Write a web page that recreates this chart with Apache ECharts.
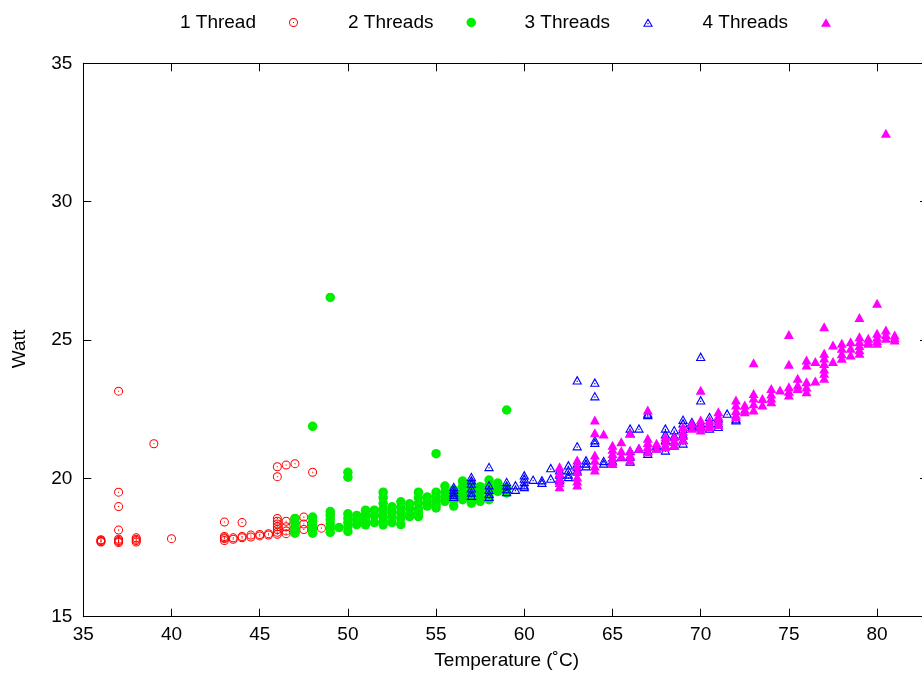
<!DOCTYPE html>
<html>
<head>
<meta charset="utf-8">
<script src="https://cdn.jsdelivr.net/npm/echarts@6/dist/echarts.min.js"></script>
<style>
html,body{margin:0;padding:0;background:#fff;}
#chart{width:922px;height:673px;}
</style>
</head>
<body>
<div id="chart"></div>
<script>
// ---- data ----
const seriesNames = ['1 Thread', '2 Threads', '3 Threads', '4 Threads'];
const xTicks = [35, 40, 45, 50, 55, 60, 65, 70, 75, 80];
const yTicks = [15, 20, 25, 30, 35];
const xLabel = 'Temperature (˚C)';
const yLabel = 'Watt';

const thread1 = [
  [36,17.7],[36,17.75],[36,17.72],[36,17.78],
  [37,23.15],[37,19.5],[37,18.98],[37,18.13],[37,17.8],[37,17.72],[37,17.68],[37,17.75],
  [38,17.85],[38,17.75],[38,17.7],[38,17.8],
  [39,21.25],
  [40,17.82],
  [43,18.42],[43,17.9],[43,17.82],[43,17.75],[43,17.85],
  [43.5,17.85],[43.5,17.8],
  [44,18.4],[44,17.9],[44,17.85],
  [44.5,17.95],[44.5,17.88],
  [45,17.97],[45,17.92],
  [45.5,18.0],[45.5,17.95],
  [46,20.42],[46,20.06],[46,18.55],[46,18.45],[46,18.35],[46,18.25],[46,18.15],[46,18.05],[46,17.98],
  [46.5,20.48],[46.5,18.45],[46.5,18.25],[46.5,18.1],[46.5,18.0],
  [47,20.53],[47,18.55],[47,18.4],[47,18.2],[47,18.05],
  [47.5,18.6],[47.5,18.35],[47.5,18.15],
  [48,20.22],[48,18.2],[48,18.1],
  [48.5,18.2],
  [49,18.7]
];

const thread2 = [
  [49,26.54],[48,21.88],[50,20.22],[50,20.04],[55,20.89],[59,22.47],
  [47,18.55],[47,18.4],[47,18.25],[47,18.1],[47,18.02],
  [48,18.6],[48,18.45],[48,18.3],[48,18.15],[48,18.02],
  [49,18.8],[49,18.65],[49,18.5],[49,18.35],[49,18.2],[49,18.05],
  [49.5,18.22],
  [50,18.72],[50,18.55],[50,18.4],[50,18.25],[50,18.08],
  [50.5,18.66],[50.5,18.5],[50.5,18.33],
  [51,18.85],[51,18.7],[51,18.55],[51,18.4],[51,18.32],
  [51.5,18.85],[51.5,18.65],[51.5,18.4],
  [52,19.5],[52,19.3],[52,19.1],[52,18.9],[52,18.75],[52,18.6],[52,18.45],[52,18.32],
  [52.5,18.97],[52.5,18.8],[52.5,18.6],[52.5,18.4],
  [53,19.15],[53,18.95],[53,18.75],[53,18.55],[53,18.33],
  [53.5,19.08],[53.5,18.9],[53.5,18.7],[53.5,18.62],
  [54,19.5],[54,19.3],[54,19.1],[54,18.9],[54,18.75],[54,18.62],
  [54.5,19.33],[54.5,19.15],[54.5,19.0],
  [55,19.5],[55,19.35],[55,19.2],[55,19.05],[55,18.93],
  [55.5,19.72],[55.5,19.5],[55.5,19.3],[55.5,19.17],
  [56,19.58],[56,19.4],[56,19.2],[56,19.0],
  [56.5,19.9],[56.5,19.7],[56.5,19.5],[56.5,19.35],[56.5,19.23],
  [57,19.82],[57,19.6],[57,19.4],[57,19.2],[57,19.1],
  [57.5,19.7],[57.5,19.5],[57.5,19.3],[57.5,19.17],
  [58,19.94],[58,19.75],[58,19.55],[58,19.35],[58,19.23],
  [58.5,19.83],[58.5,19.65],[58.5,19.53],
  [59,19.65],[59,19.47]
];

const thread3 = [
  [56,19.7],[56,19.6],[56,19.5],[56,19.42],[56,19.34],
  [57,20.06],[57,19.94],[57,19.82],[57,19.65],[57,19.5],[57,19.38],
  [58,20.42],[58,19.76],[58,19.6],[58,19.45],[58,19.34],
  [59,19.88],[59,19.75],[59,19.62],[59,19.52],
  [59.5,19.76],[59.5,19.6],
  [60,20.12],[60,20.0],[60,19.88],[60,19.76],[60,19.7],
  [60.5,19.96],
  [61,19.94],[61,19.85],
  [61.5,20.38],[61.5,20.0],
  [62,20.3],[62,20.15],[62,20.0],[62,19.94],
  [62.5,20.48],[62.5,20.3],[62.5,20.15],[62.5,20.06],
  [63,23.55],[63,21.17],[63,20.55],[63,20.42],[63,20.3],
  [63.5,20.66],[63.5,20.55],[63.5,20.45],
  [64,23.47],[64,22.98],[64,21.39],[64,21.3],
  [64.5,20.64],[64.5,20.55],
  [65,20.75],[65,20.65],
  [65.5,20.78],
  [66,21.81],[66,21.65],[66,21.0],[66,20.8],[66,20.62],
  [66.5,21.81],[66.5,21.09],
  [67,22.35],[67,22.3],[67,21.02],[67,20.9],
  [67.5,21.2],[67.5,21.1],
  [68,21.81],[68,21.6],[68,21.4],[68,21.2],[68,21.02],
  [68.5,21.75],[68.5,21.55],[68.5,21.35],[68.5,21.2],
  [69,22.13],[69,22.0],[69,21.8],[69,21.6],[69,21.4],[69,21.27],
  [69.5,22.05],[69.5,21.95],[69.5,21.87],
  [70,24.4],[70,22.83],[70,22.0],[70,21.9],
  [70.5,22.23],[70.5,22.0],[70.5,21.81],
  [71,22.18],[71,22.0],[71,21.87],
  [71.5,22.35],
  [72,22.11],[72,22.15]
];

const thread4 = [
  [62,20.42],[62,20.2],[62,20.0],[62,19.85],[62,19.7],
  [63,20.66],[63,20.45],[63,20.25],[63,20.05],[63,19.9],[63,19.76],
  [64,22.11],[64,21.65],[64,20.84],[64,20.65],[64,20.45],[64,20.3],
  [64.5,21.6],
  [65,21.2],[65,21.05],[65,20.9],[65,20.75],[65,20.6],[65,20.54],
  [65.5,21.32],[65.5,21.0],[65.5,20.8],
  [66,21.63],[66,21.02],[66,20.85],[66,20.66],
  [66.5,21.09],
  [67,22.47],[67,21.45],[67,21.3],[67,21.15],[67,20.96],
  [67.5,21.27],[67.5,21.09],
  [68,21.5],[68,21.35],[68,21.2],[68,21.14],
  [68.5,21.5],[68.5,21.35],[68.5,21.2],
  [69,21.87],[69,21.7],[69,21.55],[69,21.39],
  [69.5,21.99],[69.5,21.81],
  [70,23.18],[70,22.11],[70,21.95],[70,21.85],[70,21.75],
  [70.5,22.11],[70.5,21.98],[70.5,21.87],
  [71,22.41],[71,22.25],[71,22.1],[71,21.95],
  [72,22.83],[72,22.65],[72,22.45],[72,22.3],[72,22.23],
  [72.5,22.65],[72.5,22.5],[72.5,22.41],
  [73,24.18],[73,23.07],[73,22.9],[73,22.7],[73,22.47],
  [73.5,22.89],[73.5,22.65],
  [74,23.25],[74,23.05],[74,22.9],[74,22.77],
  [74.5,23.19],
  [75,25.2],[75,24.12],[75,23.31],[75,23.15],[75,23.01],
  [75.5,23.62],[75.5,23.37],[75.5,23.25],
  [76,24.28],[76,24.1],[76,23.49],[76,23.3],[76,23.13],
  [76.5,24.22],[76.5,23.52],
  [77,25.48],[77,24.52],[77,24.35],[77,24.15],[77,23.95],[77,23.8],[77,23.62],
  [77.5,24.82],[77.5,24.22],
  [78,24.88],[78,24.7],[78,24.5],[78,24.34],
  [78.5,24.94],[78.5,24.7],[78.5,24.46],
  [79,25.81],[79,25.12],[79,24.95],[79,24.8],[79,24.65],[79,24.52],
  [79.5,25.06],[79.5,24.95],[79.5,24.88],
  [80,26.33],[80,25.24],[80,25.1],[80,24.98],[80,24.88],
  [80.5,32.47],[80.5,25.36],[80.5,25.2],[80.5,25.06],
  [81,25.18],[81,25.08],[81,25.0]
];

// ---- styling ----
const FONT = '"Liberation Sans", Arial, sans-serif';
const FS = 19;
const circleDot = 'path://M0 -10A10 10 0 1 1 0 10A10 10 0 1 1 0 -10ZM0 -7.8A7.8 7.8 0 1 0 0 7.8A7.8 7.8 0 1 0 0 -7.8ZM-1.2 -1.2L1.2 -1.2L1.2 1.2L-1.2 1.2Z';
const triDot = 'path://M0 -10L10 7.3L-10 7.3ZM0 -5.4L-6.4 5.1L6.4 5.1ZM-1.2 -0.2L1.2 -0.2L1.2 2.2L-1.2 2.2Z';
const triFill = 'path://M0 -10L10 7.3L-10 7.3Z';
const colors = ['#ff0000', '#00ee00', '#0000ff', '#ff00ff'];
const symbols = [circleDot, 'circle', triDot, triFill];
const sizes = [[9, 9], [9.5, 9.5], [10, 9], [10, 9]];
const datasets = [thread1, thread2, thread3, thread4];
const legendRights = [624, 446, 269, 91];

const chart = echarts.init(document.getElementById('chart'), null, {renderer: 'canvas'});

const xMin = 35, xMax = 83, yMin = 15, yMax = 35;
const fmtX = v => (xTicks.indexOf(v) >= 0 ? String(v) : '');
const fmtY = v => (yTicks.indexOf(v) >= 0 ? String(v) : '');

const option = {
  animation: false,
  backgroundColor: '#fff',
  textStyle: {fontFamily: FONT},
  grid: {left: 83.3, width: 846.7, top: 63.3, height: 553.4, containLabel: false, outerBoundsMode: 'none'},
  legend: seriesNames.map((n, i) => ({
    data: [{name: n, icon: symbols[i]}],
    right: legendRights[i],
    top: 13,
    padding: 0,
    align: 'right',
    itemWidth: sizes[i][0],
    itemHeight: sizes[i][1],
    selectedMode: false,
    textStyle: {fontSize: FS, fontFamily: FONT, color: '#000', padding: [0, 28, 0, 0]}
  })),
  xAxis: [{
    type: 'value', position: 'bottom', min: xMin, max: xMax, interval: 5,
    name: xLabel, nameLocation: 'middle', nameGap: 35,
    nameTextStyle: {fontSize: FS, color: '#000', fontFamily: FONT},
    axisLine: {show: true, onZero: false, lineStyle: {color: '#000', width: 1}},
    axisTick: {show: true, inside: true, length: 8, lineStyle: {color: '#000'}},
    axisLabel: {fontSize: FS, color: '#000', margin: 9, fontFamily: FONT, formatter: fmtX},
    splitLine: {show: false}
  }, {
    type: 'value', position: 'top', min: xMin, max: xMax, interval: 5,
    axisLine: {show: true, onZero: false, lineStyle: {color: '#000', width: 1}},
    axisTick: {show: true, inside: true, length: 8, lineStyle: {color: '#000'}},
    axisLabel: {show: false},
    splitLine: {show: false}
  }],
  yAxis: [{
    type: 'value', position: 'left', min: yMin, max: yMax, interval: 5,
    name: yLabel, nameLocation: 'middle', nameGap: 54, nameRotate: 90,
    nameTextStyle: {fontSize: FS, color: '#000', fontFamily: FONT, padding: [0, 18, 0, 0]},
    axisLine: {show: true, onZero: false, lineStyle: {color: '#000', width: 1}},
    axisTick: {show: true, inside: true, length: 8, lineStyle: {color: '#000'}},
    axisLabel: {fontSize: FS, color: '#000', margin: 11, fontFamily: FONT, formatter: fmtY},
    splitLine: {show: false}
  }, {
    type: 'value', position: 'right', min: yMin, max: yMax, interval: 5,
    axisLine: {show: true, onZero: false, lineStyle: {color: '#000', width: 1}},
    axisTick: {show: true, inside: true, length: 10, lineStyle: {color: '#000'}},
    axisLabel: {show: false},
    splitLine: {show: false}
  }],
  series: seriesNames.map((n, i) => ({
    name: n,
    type: 'scatter',
    xAxisIndex: 0,
    yAxisIndex: 0,
    symbol: symbols[i],
    symbolSize: sizes[i],
    itemStyle: {color: colors[i], opacity: 1},
    emphasis: {disabled: true},
    data: datasets[i]
  }))
};
chart.setOption(option);
</script>
</body>
</html>
